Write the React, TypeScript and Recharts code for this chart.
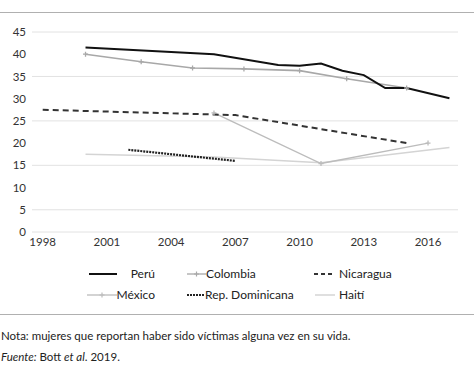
import React from 'react';
import { LineChart, Line, XAxis, YAxis, CartesianGrid } from 'recharts';

const xTicks = [1998, 2001, 2004, 2007, 2010, 2013, 2016];
const yTicks = [0, 5, 10, 15, 20, 25, 30, 35, 40, 45];

const peruYears = [2000, 2006, 2009, 2010, 2011, 2012, 2013, 2014, 2015, 2017];
const peruValues = [41.5, 40.0, 37.6, 37.4, 37.9, 36.3, 35.3, 32.4, 32.4, 30.1];

const colombiaYears = [2000, 2002.6, 2005, 2007.4, 2010, 2012.2, 2015];
const colombiaValues = [40.0, 38.3, 36.9, 36.7, 36.3, 34.5, 32.4];

const nicaraguaYears = [1998, 2007, 2015];
const nicaraguaValues = [27.5, 26.3, 20.0];

const mexicoYears = [2006, 2011, 2016];
const mexicoValues = [26.8, 15.4, 20.0];

const domYears = [2002, 2007];
const domValues = [18.5, 16.0];

const haitiYears = [2000, 2006, 2011, 2017];
const haitiValues = [17.5, 16.9, 15.6, 19.0];

const build = (years: number[], values: number[]) =>
  years.map((y, i) => ({ year: y, value: values[i] }));

const FONT = 'Lato, "Noto Sans", sans-serif';

const plusDot = (color: string) => (props: any) => {
  const { cx, cy, index } = props;
  if (cx == null || cy == null) return <g key={index} />;
  return (
    <path
      key={index}
      d={`M${cx - 2.5},${cy}h5M${cx},${cy - 2.5}v5`}
      stroke={color}
      strokeWidth={1.3}
      fill="none"
    />
  );
};

type LegendItem = { name: string; color: string; width: number; dash?: string; marker?: boolean };

const legendIcon = (item: LegendItem, w: number) => (
  <svg width={w} height={10} style={{ display: 'block' }}>
    <line x1={0} y1={5} x2={w} y2={5} stroke={item.color} strokeWidth={item.width} strokeDasharray={item.dash} />
    {item.marker && (
      <path d={`M${w / 2 - 2.5},5h5M${w / 2},2.5v5`} stroke={item.color} strokeWidth={1.2} />
    )}
  </svg>
);

export default function App() {
  const labelStyle = { fontFamily: FONT, fontSize: 12, color: '#222', position: 'absolute' as const, whiteSpace: 'nowrap' as const, lineHeight: '14px' };
  const items: { item: LegendItem; iconX: number; iconW: number; textX?: number; textRight?: number; y: number }[] = [
    { item: { name: 'Perú', color: '#111', width: 2 }, iconX: 89, iconW: 28, textRight: 474 - 155, y: 274 },
    { item: { name: 'Colombia', color: '#a8a8a8', width: 1.3, marker: true }, iconX: 187, iconW: 19, textX: 206, y: 274 },
    { item: { name: 'Nicaragua', color: '#333', width: 2, dash: '4 3' }, iconX: 314, iconW: 21, textX: 339, y: 274 },
    { item: { name: 'México', color: '#bcbcbc', width: 1.3, marker: true }, iconX: 87, iconW: 30, textRight: 474 - 155, y: 295 },
    { item: { name: 'Rep. Dominicana', color: '#222', width: 2, dash: '2 1' }, iconX: 187, iconW: 17, textX: 205, y: 295 },
    { item: { name: 'Haití', color: '#d4d4d4', width: 1.5 }, iconX: 315, iconW: 20, textX: 339, y: 295 },
  ];

  return (
    <div style={{ position: 'absolute', left: 0, top: 0, width: 474, height: 375, background: '#fff', overflow: 'hidden' }}>
      <div style={{ position: 'absolute', left: 0, top: 12, width: 474, height: 1, background: '#b0b0b0' }} />
      <div style={{ position: 'absolute', left: 0, top: 0 }}>
        <LineChart width={474} height={260} margin={{ top: 32, right: 16, bottom: 8, left: 6 }}>
          <CartesianGrid vertical={false} stroke="#e2e2e2" strokeWidth={1} />
          <XAxis
            dataKey="year"
            type="number"
            domain={[1997.5, 2017.4]}
            ticks={xTicks}
            tickLine={false}
            axisLine={false}
            tickMargin={0}
            height={20}
            allowDataOverflow
            tick={{ fontFamily: FONT, fontSize: 11.5, fill: '#333' }}
          />
          <YAxis
            type="number"
            domain={[0, 45]}
            ticks={yTicks}
            tickLine={false}
            axisLine={false}
            tickMargin={0}
            width={26}
            tick={{ fontFamily: FONT, fontSize: 11.5, fill: '#333' }}
          />
          <Line data={build(haitiYears, haitiValues)} dataKey="value" stroke="#d4d4d4" strokeWidth={1.5} dot={false} isAnimationActive={false} />
          <Line data={build(mexicoYears, mexicoValues)} dataKey="value" stroke="#bcbcbc" strokeWidth={1.4} dot={plusDot('#bcbcbc')} isAnimationActive={false} />
          <Line data={build(colombiaYears, colombiaValues)} dataKey="value" stroke="#a8a8a8" strokeWidth={1.6} dot={plusDot('#a8a8a8')} isAnimationActive={false} />
          <Line data={build(nicaraguaYears, nicaraguaValues)} dataKey="value" stroke="#333" strokeWidth={2} strokeDasharray="6 4" dot={false} isAnimationActive={false} />
          <Line data={build(domYears, domValues)} dataKey="value" stroke="#222" strokeWidth={2.2} strokeDasharray="2 1" dot={false} isAnimationActive={false} />
          <Line data={build(peruYears, peruValues)} dataKey="value" stroke="#111" strokeWidth={2} dot={false} isAnimationActive={false} />
        </LineChart>
      </div>
      {items.map((d, i) => (
        <React.Fragment key={i}>
          <div style={{ position: 'absolute', left: d.iconX, top: d.y - 5 }}>{legendIcon(d.item, d.iconW)}</div>
          <div
            style={{
              ...labelStyle,
              top: d.y - 7,
              ...(d.textX != null ? { left: d.textX } : { right: d.textRight }),
            }}
          >
            {d.item.name}
          </div>
        </React.Fragment>
      ))}
      <div style={{ position: 'absolute', left: 0, top: 314, width: 474, height: 1, background: '#b0b0b0' }} />
      <div style={{ ...labelStyle, fontSize: 11.5, left: 1, top: 329 }}>
        Nota: mujeres que reportan haber sido víctimas alguna vez en su vida.
      </div>
      <div style={{ ...labelStyle, fontSize: 11.5, left: 1, top: 350 }}>
        <i>Fuente:</i> Bott <i>et al</i>. 2019.
      </div>
    </div>
  );
}
